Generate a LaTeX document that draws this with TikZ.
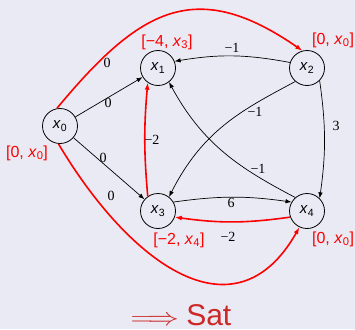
\documentclass[tikz,border=0pt]{standalone}
\usepackage{fontspec}
\setmainfont{Liberation Sans}
\newfontfamily\wserif{Liberation Serif}
\usetikzlibrary{arrows.meta}
\definecolor{bg}{RGB}{234,234,244}
\definecolor{alertred}{RGB}{204,40,40}
\newcommand\xv[1]{\textit{x}\textsubscript{#1}}
\begin{document}
\begin{tikzpicture}[x=1pt,y=-1pt,
  vtx/.style={circle,draw,line width=0.8pt,minimum size=35pt,inner sep=0pt,font=\fontsize{15}{15}\selectfont},
  edg/.style={line width=0.7pt,-{Latex[length=6pt,width=4.5pt]}},
  redg/.style={red,line width=1.6pt,-{Latex[length=7pt,width=5pt]}},
  wlab/.style={font=\wserif\fontsize{14}{14}\selectfont,inner sep=0pt},
  rlab/.style={text=red,font=\fontsize{16}{16}\selectfont,inner sep=0pt}]
\fill[bg] (0,0) rectangle (355,329);
\useasboundingbox (0,0) rectangle (355,329);
% vertices
\node[vtx] (x0) at (60,126) {\xv{0}};
\node[vtx] (x1) at (158,68) {\xv{1}};
\node[vtx] (x2) at (307,68) {\xv{2}};
\node[vtx] (x3) at (158,211) {\xv{3}};
\node[vtx] (x4) at (307,211) {\xv{4}};
% black edges
\draw[edg] (x0) -- (x1);
\draw[edg] (x0) -- (x3);
\draw[edg] (x2.162) to[bend right=10] (x1.22);
\draw[edg] (x2.229) .. controls (242,110) and (203,130) .. (x3.52);
\draw[edg] (x4.131) .. controls (241,169) and (203,145) .. (x1.308);
\draw[edg] (x2.-45) to[bend left=8] (x4.45);
\draw[edg] (x3.30) to[bend left=8] (x4.150);
% red edges
\draw[redg] (x4.200) to[bend left=8] (x3.340);
\draw[redg] (x3.125) to[bend left=5] (x1.235);
\draw[redg] (x0.100) .. controls (140,8) and (196,-23) .. (x2.105);
\draw[redg] (x0.-95) .. controls (130,264) and (235,341) .. (x4.245);
% weights
\node[wlab] (w01) at (108,103) {0};
\node[wlab] (w02) at (107,63) {0};
\node[wlab] (w03) at (103,158) {0};
\node[wlab] (w04) at (111,196) {0};
\node[wlab] (w31) at (152,140) {−2};
\node[wlab] (w21) at (232,48) {−1};
\node[wlab] (w23) at (255,112) {−1};
\node[wlab] (w24) at (336,126) {3};
\node[wlab] (w41) at (258,169) {−1};
\node[wlab] (w34) at (231,203) {6};
\node[wlab] (w43) at (228,237) {−2};
% distance labels
\node[rlab] (d1) at (167,42) {[−4, \xv{3}]};
\node[rlab] (d2) at (333,40) {[0, \xv{0}]};
\node[rlab] (d0) at (27,153) {[0, \xv{0}]};
\node[rlab] (d3) at (179,240) {[−2, \xv{4}]};
\node[rlab] (d4) at (333,239) {[0, \xv{0}]};
% conclusion
\node[text=alertred,inner sep=0pt] (sat) at (181,315) {\fontsize{26}{26}\selectfont\scalebox{1.25}[1]{$\Longrightarrow$}\ \fontsize{30}{30}\selectfont Sat};
\end{tikzpicture}
\end{document}
